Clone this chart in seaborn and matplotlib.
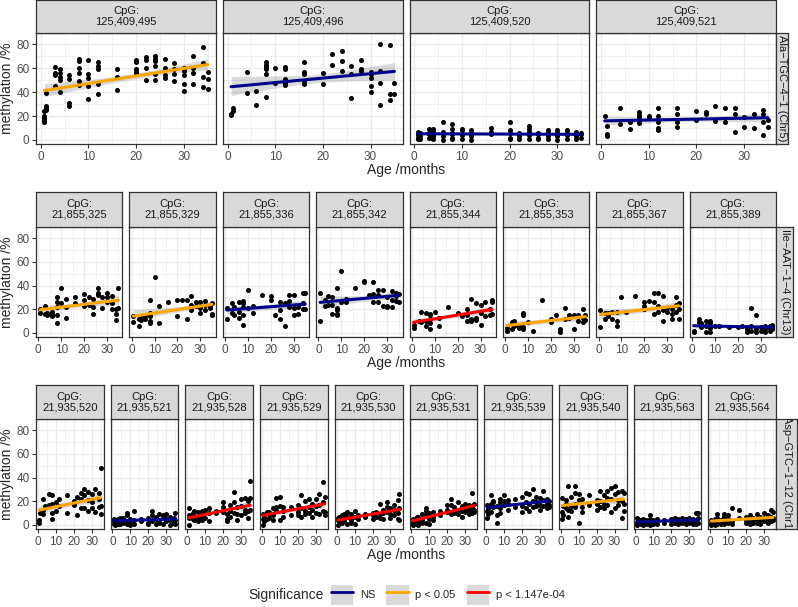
import numpy as np
import pandas as pd
import matplotlib
matplotlib.use("Agg")
import matplotlib.pyplot as plt
import seaborn as sns
from matplotlib.patches import Patch
from matplotlib.lines import Line2D

# Significance colours
sig_labels = ["NS", "p < 0.05", "p < 1.147e-04"]
sig_colors = ["#00008B", "#FFA500", "#FF0000"]

# ---- Row 1: Ala-TGC-4-1 (Chr5) ----
ala_label = "Ala\u2212TGC\u22124\u22121 (Chr5)"
ala_cpg = ["125,409,495", "125,409,496", "125,409,520", "125,409,521"]
ala_sig = ["p < 0.05", "NS", "NS", "NS"]
ala_ages = [0.75, 1.2, 3, 4, 6, 8, 10, 12, 16, 20, 22, 24, 26, 28, 30, 32, 34, 35]
# methylation values grouped by age (one sub-list per age)
ala_495 = [[15, 16, 17, 18, 20, 24], [25, 27, 28, 39], [61, 56, 54, 45], [59, 56, 53, 50, 40],
           [54, 51, 31, 28], [68, 66, 60, 56, 49, 46], [67, 55, 52, 45, 34], [65, 62, 59, 47, 38],
           [59, 53, 42], [67, 65, 59, 57, 56], [69, 67, 60, 50], [70, 68, 66, 62, 55, 50],
           [68, 60, 54, 52], [64, 59, 55, 49], [60, 58, 54, 47, 41], [70, 60, 56, 47],
           [78, 64, 53, 44], [57, 51, 43]]
ala_496 = [[21, 22], [24, 27], [], [57, 39], [41, 29], [65, 63, 61, 59, 55, 36], [60, 48],
           [61, 59, 51, 48, 46], [65, 57, 55, 49, 47], [56, 47], [72, 63], [74, 66, 58],
           [62, 55, 35], [67, 59, 58], [57, 55, 52, 45, 40], [80, 58, 48, 29], [79, 38, 33], [48, 38]]
ala_520 = [[1, 2, 4, 5, 7], [1, 3, 6], [2, 5, 6, 9], [1, 3, 4, 7, 9], [0, 3, 7, 15],
           [1, 2, 5, 6, 9, 13], [1, 4, 5, 8, 9], [0, 3, 4, 6, 8], [5, 7, 10], [1, 2, 6, 8, 15],
           [1, 3, 5, 6], [1, 4, 5, 7, 9, 12], [1, 2, 5, 6], [1, 3, 6, 8], [0, 3, 4, 6, 8],
           [1, 4, 6, 8], [1, 3, 4, 7], [2, 5, 6]]
ala_521 = [[20], [12, 5, 3], [], [27, 13], [15, 9], [23, 21, 19, 17, 14], [20, 19],
           [27, 20, 15, 10, 8], [27, 22, 15, 11], [24, 17], [23, 22], [28, 16], [27, 15],
           [27, 22, 7], [19, 11], [22, 10], [25, 22, 15, 4], [17, 11]]

# ---- Row 2: Ile-AAT-1-4 (Chr13) ----
ile_label = "Ile\u2212AAT\u22121\u22124 (Chr13)"
ile_cpg = ["21,855,325", "21,855,329", "21,855,336", "21,855,342",
           "21,855,344", "21,855,353", "21,855,367", "21,855,389"]
ile_sig = ["p < 0.05", "p < 0.05", "NS", "NS", "p < 1.147e-04", "p < 0.05", "p < 0.05", "NS"]
ile_ages = [0.75, 3, 4, 6, 8, 10, 12, 16, 20, 22, 24, 26, 28, 30, 32, 34, 35]
ile_325 = [[17, 20], [23, 16], [17, 15], [18, 14, 16], [30, 26, 22, 15, 8], [38, 25], [29, 13, 22],
           [30, 25], [33, 23, 28], [30, 24], [29, 22, 16], [38, 34, 32], [21, 30], [34, 30, 26],
           [31, 25, 20], [20, 11, 16], [38, 21]]
ile_329 = [[9, 14], [6, 12], [13, 11], [14, 12], [28, 10, 14, 17, 8], [47], [23, 8], [26], [28, 14],
           [28], [28, 12], [31, 24, 19], [26, 23], [26, 21, 17], [27, 24, 19], [23, 21], [25, 16, 15]]
ile_336 = [[21, 12], [25, 17], [22, 15], [26, 18, 13], [27, 25, 22, 15, 7], [36, 21], [23, 17], [32],
           [31, 28], [15], [19, 12, 26], [6, 25], [32, 27, 22], [32, 15, 21], [16, 22], [34, 25, 20],
           [34, 20]]
ile_342 = [[34, 10], [28, 23], [31, 24], [30, 24, 16], [38, 21, 19, 16, 15], [52, 26], [29, 26], [38],
           [44, 43], [32], [43, 33, 26], [36, 32, 26], [36, 23], [30, 22, 23], [35, 28, 22],
           [34, 31, 27], [33, 26]]
ile_344 = [[7, 4], [10], [18, 9], [17, 10, 6], [16, 12, 8, 3, 15], [18], [13, 6], [22], [17], [14],
           [20, 10, 15], [29, 12, 10], [25, 13, 11], [24, 17, 7], [26, 14], [20, 15], [28, 26, 16]]
ile_353 = [[2, 4], [9, 3], [10, 6], [4, 6], [17, 15, 3, 5], [9], [2], [28], [12, 9], [15], [3, 1],
           [21, 12], [15, 13], [3, 15], [15, 10, 14], [20, 13, 9], [15, 11]]
ile_367 = [[19, 5], [17, 12], [17, 14], [18, 12], [18, 10, 6], [30], [18], [31], [26, 23, 20], [27],
           [34, 26, 16], [34, 23, 18], [31, 19, 10], [21, 18], [20, 16, 12], [30, 24, 18], [25, 20, 12]]
ile_389 = [[2, 0.5], [12, 9], [8, 5], [10, 6, 1], [10, 8, 1, 4], [6], [6], [5], [5], [6], [5, 3, 1],
           [21, 2, 6], [15, 3, 1], [5, 2], [6, 3, 1], [6, 4, 2], [7, 3, 5]]

# ---- Row 3: Asp-GTC-1-12 (Chr1) ----
asp_label = "Asp\u2212GTC\u22121\u221212 (Chr1)"
asp_cpg = ["21,935,520", "21,935,521", "21,935,528", "21,935,529", "21,935,530",
           "21,935,531", "21,935,539", "21,935,540", "21,935,563", "21,935,564"]
asp_sig = ["p < 0.05", "NS", "p < 1.147e-04", "p < 1.147e-04", "p < 1.147e-04",
           "p < 1.147e-04", "NS", "p < 0.05", "NS", "p < 0.05"]
asp_ages = [0.75, 1.2, 3, 4, 6, 8, 10, 12, 16, 20, 22, 24, 26, 28, 30, 32, 34, 35]
asp_520 = [[4, 2], [10], [22, 13, 9], [16], [26, 17], [25, 18, 10, 5], [19, 12], [22, 16], [25, 10],
           [17, 20], [24, 8], [22, 14, 27], [30, 14, 25], [28, 21, 12], [26, 19, 14], [30, 11],
           [27, 22, 15], [48, 16, 9]]
asp_521 = [[1, 3, 5], [0, 4], [2, 5, 1], [6, 3, 1], [4, 2, 6], [1, 3, 8, 10], [2, 5, 0], [12, 4, 1],
           [3, 5], [2, 1, 6], [12, 8, 3], [1, 5, 7], [9, 2, 4], [8, 1, 6], [3, 5, 9], [0, 4, 7],
           [2, 6, 3], [10, 4, 1]]
asp_528 = [[14, 8, 0], [6], [10, 5, 8], [4, 12], [11, 6, 3], [12, 9, 4, 7], [13, 6], [14, 10, 3],
           [10, 12], [19, 15, 11], [9, 5, 3], [17, 12, 7], [28, 19, 10], [15, 9, 4], [22, 16, 8],
           [23, 13, 10], [20, 12, 6], [37, 23, 13]]
asp_529 = [[0, 5, 9], [3, 7], [11, 5, 10], [9, 6, 11], [14, 8, 4], [23, 15, 12, 14], [24, 16, 4],
           [7, 12, 15], [15, 8], [17, 11, 8], [25, 14, 7], [20, 12, 9], [22, 15, 10], [18, 13, 7],
           [22, 16, 10], [26, 17, 9], [36, 19, 12], [24, 11, 8]]
asp_530 = [[0, 4, 6], [3, 7], [8, 5, 2], [6, 9, 3], [11, 7, 1], [9, 6, 4, 2], [12, 1, 7], [8, 5],
           [9, 7], [10, 8, 5], [11, 7], [18, 9, 6], [13, 10, 5], [19, 15, 11], [14, 9, 6],
           [17, 13, 8], [21, 10, 5], [26, 14, 4]]
asp_531 = [[0, 2, 5], [1, 3], [4, 7, 1], [7, 3, 0], [9, 4, 2], [12, 14, 8, 2], [10, 5, 1], [11, 7, 4],
           [12, 8], [17, 11, 13], [22, 17, 9], [15, 12, 10], [19, 13, 9], [16, 12, 7], [18, 14, 11],
           [17, 13, 9], [27, 15, 10], [18, 13, 11]]
asp_539 = [[12, 6, 17], [9, 14], [25, 18, 11], [20, 15, 19], [16, 8, 2], [22, 14, 10, 19],
           [25, 20, 17], [21, 13, 18], [22, 15], [24, 16, 11], [27, 19, 14], [26, 18, 12],
           [30, 20, 15], [24, 19, 16], [23, 17, 13], [29, 21, 16], [22, 18, 14], [20, 17, 15]]
asp_540 = [[23, 11, 5], [16, 8], [21, 14, 18], [33, 13, 7], [24, 16, 12], [33, 27, 15, 18],
           [26, 21, 2], [22, 15, 11], [25, 17], [18, 13, 21], [29, 20, 15], [25, 18, 14],
           [29, 23, 17], [31, 22, 11], [33, 26, 14], [28, 21, 17], [29, 20, 6], [27, 18, 12]]
asp_563 = [[6, 2, 0], [3, 5], [1, 4, 2], [0, 3, 5], [2, 4, 1], [8, 5, 3, 0], [2, 4, 1], [5, 3, 1],
           [4, 2], [3, 5, 1], [6, 2, 4], [3, 1, 5], [4, 2, 6], [3, 5, 1], [2, 4, 6], [3, 1, 5],
           [10, 4, 1], [10, 6, 2]]
asp_564 = [[4, 2, 0], [3, 1], [5, 2, 0], [6, 1, 9], [4, 2, 1], [7, 3, 1, 9], [5, 2, 8], [14, 3, 1],
           [13, 6], [4, 2, 7], [8, 3, 1], [6, 2, 4], [9, 5, 2], [7, 4, 1], [10, 6, 3], [8, 5, 2],
           [13, 7, 3], [11, 6, 4]]

W, H = 798, 607

sns.set_theme(style="white")
plt.rcParams["font.family"] = ["Liberation Sans", "DejaVu Sans"]

fig = plt.figure(figsize=(W / 100, H / 100), dpi=100)


def px_axes(x0, y0, w, h):
    # pixel box (top-left origin) -> figure axes
    return fig.add_axes([x0 / W, 1 - (y0 + h) / H, w / W, h / H])


def draw_row(ages, panels, cpgs, sigs, label, strip_top, panel_top, panel_bottom, rstrip_right,
             title_y):
    n = len(panels)
    left, right, gap = 36, 776, 7
    w = (right - left - gap * (n - 1)) / n
    ph = panel_bottom - panel_top
    for i, vals in enumerate(panels):
        x0 = left + i * (w + gap)
        counts = [len(v) for v in vals]
        df = pd.DataFrame({"age": np.repeat(ages, counts),
                           "meth": np.concatenate([np.asarray(v, float) for v in vals])})
        ax = px_axes(x0, panel_top, w, ph)
        ax.set_facecolor("white")
        sns.scatterplot(data=df, x="age", y="meth", color="black", s=13,
                        linewidth=0, ax=ax, zorder=2)
        # grey confidence band
        sns.regplot(data=df, x="age", y="meth", scatter=False, color="black",
                    line_kws={"alpha": 0}, seed=1, ax=ax)
        col = sig_colors[sig_labels.index(sigs[i])]
        sns.regplot(data=df, x="age", y="meth", scatter=False, ci=None, color=col,
                    line_kws={"lw": 2.2, "zorder": 4}, ax=ax)
        ax.set_xlim(-1.0, 36.7)
        ax.set_ylim(-3.4, 89.4)
        ax.set_xticks([0, 10, 20, 30])
        ax.set_xticks([5, 15, 25, 35], minor=True)
        ax.set_yticks([0, 20, 40, 60, 80])
        ax.set_yticks([10, 30, 50, 70], minor=True)
        ax.grid(True, which="major", color="#EBEBEB", lw=1.0)
        ax.grid(True, which="minor", color="#EBEBEB", lw=0.5)
        ax.set_axisbelow(True)
        ax.set_xlabel("")
        ax.set_ylabel("")
        for sp in ax.spines.values():
            sp.set_color("#333333")
            sp.set_linewidth(0.9)
        ax.tick_params(which="major", length=2.7, width=0.8, color="#333333",
                       labelsize=8.5, labelcolor="#4D4D4D", pad=2)
        ax.tick_params(which="minor", length=0)
        ax.tick_params(axis="both", bottom=True, left=(i == 0), labelleft=(i == 0))

        # top strip
        sax = px_axes(x0, strip_top, w, panel_top - strip_top)
        sax.set_facecolor("#D9D9D9")
        sax.set_xticks([])
        sax.set_yticks([])
        for sp in sax.spines.values():
            sp.set_color("#333333")
            sp.set_linewidth(0.9)
        sax.text(0.5, 0.5, "CpG:\n" + cpgs[i], ha="center", va="center", fontsize=8,
                 color="#1A1A1A", linespacing=1.05, transform=sax.transAxes)

    # right strip
    rax = px_axes(right, panel_top, rstrip_right - right, ph)
    rax.set_facecolor("#D9D9D9")
    rax.set_xticks([])
    rax.set_yticks([])
    for sp in rax.spines.values():
        sp.set_color("#333333")
        sp.set_linewidth(0.9)
    rax.text(0.5, 0.5, label, rotation=-90, ha="center", va="center", fontsize=8,
             color="#1A1A1A", transform=rax.transAxes, clip_on=True)

    fig.text(7 / W, 1 - (panel_top + ph / 2) / H, "methylation /%", rotation=90,
             ha="center", va="center", fontsize=10)
    fig.text((left + right) / 2 / W, 1 - title_y / H, "Age /months", ha="center",
             va="center", fontsize=10)


draw_row(ala_ages, [ala_495, ala_496, ala_520, ala_521], ala_cpg, ala_sig, ala_label,
         0, 33, 144, 788, 170)
draw_row(ile_ages, [ile_325, ile_329, ile_336, ile_342, ile_344, ile_353, ile_367, ile_389],
         ile_cpg, ile_sig, ile_label, 192, 227, 337, 793, 363)
draw_row(asp_ages, [asp_520, asp_521, asp_528, asp_529, asp_530, asp_531, asp_539, asp_540,
                    asp_563, asp_564], asp_cpg, asp_sig, asp_label, 385, 419, 529, 797, 555)

# legend
fig.text(248 / W, 1 - 595 / H, "Significance", ha="left", va="center", fontsize=10)
handles = [(Patch(facecolor="#D9D9D9", edgecolor="none"), Line2D([], [], color=c, lw=2))
           for c in sig_colors]
fig.legend(handles, sig_labels, loc="center left", bbox_to_anchor=(331 / W, 1 - 595 / H),
           ncol=3, frameon=False, fontsize=8, handlelength=2.0, handleheight=2.4,
           handletextpad=0.6, columnspacing=1.0, borderpad=0, borderaxespad=0)

fig.savefig("out.png", dpi=100)
